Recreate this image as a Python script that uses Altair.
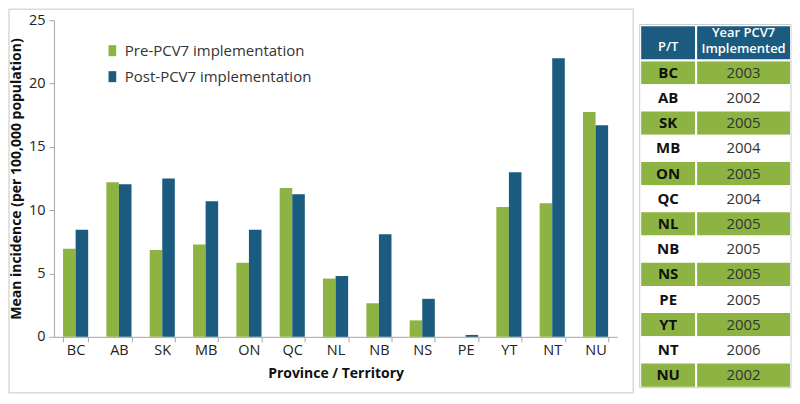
import altair as alt
import pandas as pd

# ---------------- data ----------------
provinces = ["BC", "AB", "SK", "MB", "ON", "QC", "NL", "NB", "NS", "PE", "YT", "NT", "NU"]
pre_values = [6.95, 12.2, 6.85, 7.3, 5.85, 11.75, 4.6, 2.65, 1.3, 0.0, 10.25, 10.55, 17.75]
post_values = [8.45, 12.05, 12.5, 10.7, 8.45, 11.25, 4.8, 8.1, 3.0, 0.15, 13.0, 22.0, 16.7]
years_implemented = [2003, 2002, 2005, 2004, 2005, 2004, 2005, 2005, 2005, 2005, 2005, 2006, 2002]
series_names = ["Pre-PCV7 implementation", "Post-PCV7 implementation"]
table_headers = ["P/T", "Year PCV7", "Implemented"]

GREEN = "#8db443"
BLUE = "#1b5b7f"
FONT = "Open Sans"

rows = []
for p, a, b in zip(provinces, pre_values, post_values):
    rows.append({"pt": p, "series": series_names[0], "value": a})
    rows.append({"pt": p, "series": series_names[1], "value": b})
bars_df = pd.DataFrame(rows)

# ---------------- bar chart panel ----------------
bars = alt.Chart(bars_df).mark_bar().encode(
    x=alt.X("pt:N", sort=provinces, title="Province / Territory",
            scale=alt.Scale(paddingInner=0.42, paddingOuter=0.21),
            axis=alt.Axis(labelAngle=0, tickBand="extent", labelPadding=2, titlePadding=9)),
    xOffset=alt.XOffset("series:N", sort=series_names,
                        scale=alt.Scale(paddingInner=0, paddingOuter=0)),
    y=alt.Y("value:Q", title="Mean incidence (per 100,000 population)",
            scale=alt.Scale(domain=[0, 25], nice=False),
            axis=alt.Axis(values=[0, 5, 10, 15, 20, 25], grid=False, labelPadding=4, titlePadding=5)),
    color=alt.Color("series:N", sort=series_names,
                    scale=alt.Scale(domain=series_names, range=[GREEN, BLUE]),
                    legend=alt.Legend(orient="none", legendX=51, legendY=23, title=None,
                                      symbolType="M-0.7,-1H0.7V1H-0.7Z", symbolSize=121,
                                      symbolStrokeWidth=0, labelFontSize=15, labelFont=FONT,
                                      labelColor="#333333", rowPadding=10, labelOffset=5,
                                      labelLimit=0, padding=0)),
)

frame = alt.Chart(pd.DataFrame({"k": [0]})).mark_rect(
    fillOpacity=0, stroke="#d9d9d9", strokeWidth=1.5
).encode(x=alt.value(-45), x2=alt.value(580), y=alt.value(-11), y2=alt.value(373))

left = alt.layer(bars, frame).properties(width=564, height=317)

# ---------------- table panel ----------------
col_edges = {"pt": (1, 57), "yr": (57, 152)}
HDR_TOP = -1.387
cells = []
texts_pt = []
texts_yr = []
for i, (p, yv) in enumerate(zip(provinces, years_implemented)):
    fill = GREEN if i % 2 == 0 else "#ffffff"
    for c in ("pt", "yr"):
        cells.append({"x0": col_edges[c][0], "x1": col_edges[c][1], "y0": i, "y1": i + 1, "fill": fill})
    texts_pt.append({"x": sum(col_edges["pt"]) / 2, "y": i + 0.5, "t": p})
    texts_yr.append({"x": sum(col_edges["yr"]) / 2, "y": i + 0.5, "t": str(yv)})
for c in ("pt", "yr"):
    cells.append({"x0": col_edges[c][0], "x1": col_edges[c][1], "y0": HDR_TOP, "y1": 0, "fill": BLUE})
hdr_texts = [
    {"x": sum(col_edges["pt"]) / 2, "y": -0.53, "t": table_headers[0]},
    {"x": sum(col_edges["yr"]) / 2, "y": -1.07, "t": table_headers[1]},
    {"x": sum(col_edges["yr"]) / 2, "y": -0.43, "t": table_headers[2]},
]

xs = alt.Scale(domain=[0, 152], nice=False, zero=False)
ys = alt.Scale(domain=[-1.585, 13.28], nice=False, zero=False, reverse=True)

cell_layer = alt.Chart(pd.DataFrame(cells)).mark_rect(stroke="white", strokeWidth=2).encode(
    x=alt.X("x0:Q", scale=xs, axis=None), x2="x1:Q",
    y=alt.Y("y0:Q", scale=ys, axis=None), y2="y1:Q",
    fill=alt.Fill("fill:N", scale=None),
)
pt_layer = alt.Chart(pd.DataFrame(texts_pt)).mark_text(
    font=FONT, fontSize=15, fontWeight="bold", color="#111111", baseline="middle"
).encode(x=alt.X("x:Q", scale=xs, axis=None), y=alt.Y("y:Q", scale=ys, axis=None), text="t:N")
yr_layer = alt.Chart(pd.DataFrame(texts_yr)).mark_text(
    font=FONT, fontSize=15, color="#333333", baseline="middle"
).encode(x=alt.X("x:Q", scale=xs, axis=None), y=alt.Y("y:Q", scale=ys, axis=None), text="t:N")
hdr_layer = alt.Chart(pd.DataFrame(hdr_texts)).mark_text(
    font=FONT, fontSize=13, fontWeight=600, color="white", baseline="middle"
).encode(x=alt.X("x:Q", scale=xs, axis=None), y=alt.Y("y:Q", scale=ys, axis=None), text="t:N")
outline = alt.Chart(pd.DataFrame({"x0": [0.5], "x1": [152], "y0": [HDR_TOP - 0.03], "y1": [13.0]})).mark_rect(
    fillOpacity=0, stroke="#cccccc", strokeWidth=1
).encode(x=alt.X("x0:Q", scale=xs, axis=None), x2="x1:Q",
         y=alt.Y("y0:Q", scale=ys, axis=None), y2="y1:Q")

right = alt.layer(cell_layer, pt_layer, yr_layer, hdr_layer, outline).properties(width=152, height=375)

chart = alt.hconcat(left, right, spacing=5).properties(
    padding={"left": 0, "top": 0, "right": 0, "bottom": 0}
).configure_view(stroke=None).configure_axis(
    domainColor="#a6a6a6", tickColor="#a6a6a6", tickSize=5,
    labelFont=FONT, labelFontSize=14.5, labelColor="#222222",
    titleFont=FONT, titleFontSize=14, titleFontWeight="bold", titleColor="#111111",
).configure_text(font=FONT)

chart.save("out.html", embed_options={"renderer": "svg", "actions": False})
